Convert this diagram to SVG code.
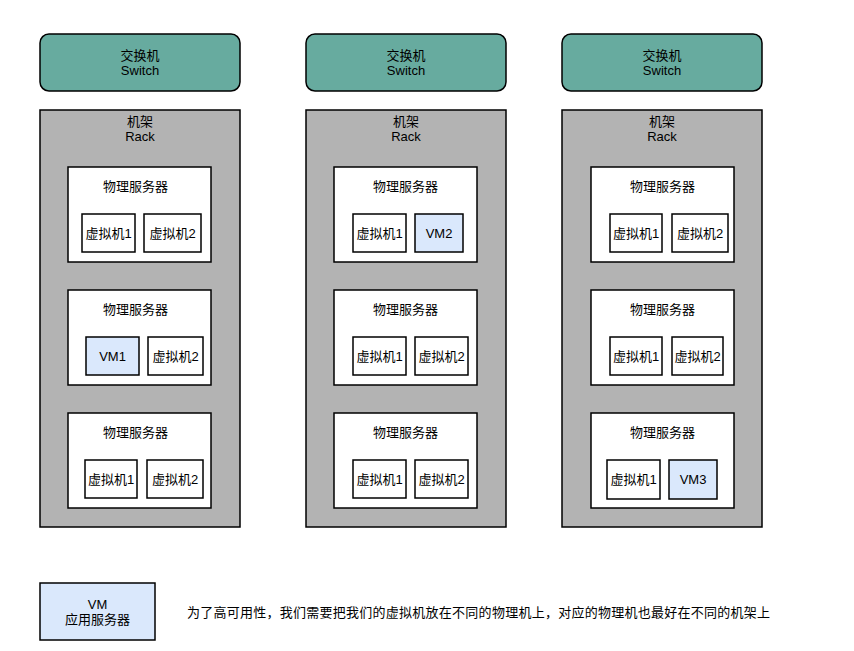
<svg xmlns="http://www.w3.org/2000/svg" width="854" height="651" viewBox="0 0 854 651">
<style>
text{font-family:"Liberation Sans","Noto Sans CJK SC",sans-serif;font-size:13px;fill:#000;text-anchor:middle}
.sw{fill:#67ab9f;stroke:#000;stroke-width:1.5}
.rack{fill:#b3b3b3;stroke:#000;stroke-width:1.5}
.srv{fill:#fff;stroke:#000;stroke-width:1.5}
.vm{fill:#fff;stroke:#000;stroke-width:1.5}
.app{fill:#dae8fc;stroke:#000;stroke-width:1.5}
.cap{text-anchor:start;font-size:13px}
</style>
<rect width="854" height="651" fill="#fff"/>
<g id="switch1"><rect class="sw" x="40" y="34" width="200" height="57" rx="9"/><text x="140" y="60">交换机</text><text x="140" y="75">Switch</text></g>
<g id="switch2"><rect class="sw" x="306" y="34" width="200" height="57" rx="9"/><text x="406" y="60">交换机</text><text x="406" y="75">Switch</text></g>
<g id="switch3"><rect class="sw" x="562" y="34" width="200" height="57" rx="9"/><text x="662" y="60">交换机</text><text x="662" y="75">Switch</text></g>

<g id="rack1"><rect class="rack" x="40" y="110" width="200" height="417"/><text x="140" y="126">机架</text><text x="140" y="141">Rack</text></g>
<g id="rack2"><rect class="rack" x="306" y="110" width="200" height="417"/><text x="406" y="126">机架</text><text x="406" y="141">Rack</text></g>
<g id="rack3"><rect class="rack" x="562" y="110" width="200" height="417"/><text x="662" y="126">机架</text><text x="662" y="141">Rack</text></g>

<g id="server1-1"><rect class="srv" x="68" y="167" width="143" height="95"/><text x="135.5" y="191">物理服务器</text></g>
<g id="vm1-1-1"><rect class="vm" x="82" y="214" width="53" height="38"/><text x="108.5" y="237.5">虚拟机1</text></g>
<g id="vm1-1-2"><rect class="vm" x="144" y="214" width="57" height="38"/><text x="172.5" y="237.5">虚拟机2</text></g>

<g id="server1-2"><rect class="srv" x="68" y="290" width="143" height="95"/><text x="135.5" y="314">物理服务器</text></g>
<g id="vm1-2-1"><rect class="app" x="86" y="337" width="53" height="38"/><text x="112.5" y="360.5">VM1</text></g>
<g id="vm1-2-2"><rect class="vm" x="148" y="337" width="55" height="38"/><text x="175.5" y="360.5">虚拟机2</text></g>

<g id="server1-3"><rect class="srv" x="68" y="413" width="143" height="95"/><text x="135.5" y="437">物理服务器</text></g>
<g id="vm1-3-1"><rect class="vm" x="85" y="460" width="52" height="38"/><text x="111" y="483.5">虚拟机1</text></g>
<g id="vm1-3-2"><rect class="vm" x="147" y="460" width="56" height="38"/><text x="175" y="483.5">虚拟机2</text></g>

<g id="server2-1"><rect class="srv" x="334" y="167" width="143" height="95"/><text x="405.5" y="191">物理服务器</text></g>
<g id="vm2-1-1"><rect class="vm" x="353" y="214" width="53" height="38"/><text x="379.5" y="237.5">虚拟机1</text></g>
<g id="vm2-1-2"><rect class="app" x="415" y="214" width="48" height="38"/><text x="439" y="237.5">VM2</text></g>

<g id="server2-2"><rect class="srv" x="334" y="290" width="143" height="95"/><text x="405.5" y="314">物理服务器</text></g>
<g id="vm2-2-1"><rect class="vm" x="353" y="337" width="53" height="38"/><text x="379.5" y="360.5">虚拟机1</text></g>
<g id="vm2-2-2"><rect class="vm" x="415" y="337" width="53" height="38"/><text x="441.5" y="360.5">虚拟机2</text></g>

<g id="server2-3"><rect class="srv" x="334" y="413" width="143" height="95"/><text x="405.5" y="437">物理服务器</text></g>
<g id="vm2-3-1"><rect class="vm" x="353" y="460" width="53" height="38"/><text x="379.5" y="483.5">虚拟机1</text></g>
<g id="vm2-3-2"><rect class="vm" x="415" y="460" width="53" height="38"/><text x="441.5" y="483.5">虚拟机2</text></g>

<g id="server3-1"><rect class="srv" x="591" y="167" width="143" height="95"/><text x="662.5" y="191">物理服务器</text></g>
<g id="vm3-1-1"><rect class="vm" x="610" y="214" width="52" height="38"/><text x="636" y="237.5">虚拟机1</text></g>
<g id="vm3-1-2"><rect class="vm" x="672" y="214" width="56" height="38"/><text x="700" y="237.5">虚拟机2</text></g>

<g id="server3-2"><rect class="srv" x="591" y="290" width="143" height="95"/><text x="662.5" y="314">物理服务器</text></g>
<g id="vm3-2-1"><rect class="vm" x="610" y="337" width="52" height="38"/><text x="636" y="360.5">虚拟机1</text></g>
<g id="vm3-2-2"><rect class="vm" x="672" y="337" width="51" height="38"/><text x="697.5" y="360.5">虚拟机2</text></g>

<g id="server3-3"><rect class="srv" x="591" y="413" width="143" height="95"/><text x="662.5" y="437">物理服务器</text></g>
<g id="vm3-3-1"><rect class="vm" x="607" y="460" width="53" height="39"/><text x="633.5" y="484">虚拟机1</text></g>
<g id="vm3-3-2"><rect class="app" x="669" y="460" width="48" height="39"/><text x="693" y="484">VM3</text></g>

<g id="connectors"></g>

<g id="legend"><rect class="app" x="40" y="583" width="115" height="57"/><text x="97.5" y="609">VM</text><text x="97.5" y="624">应用服务器</text></g>
<g id="caption"><text class="cap" x="187" y="617" textLength="583" lengthAdjust="spacing">为了高可用性，我们需要把我们的虚拟机放在不同的物理机上，对应的物理机也最好在不同的机架上</text></g>
</svg>
